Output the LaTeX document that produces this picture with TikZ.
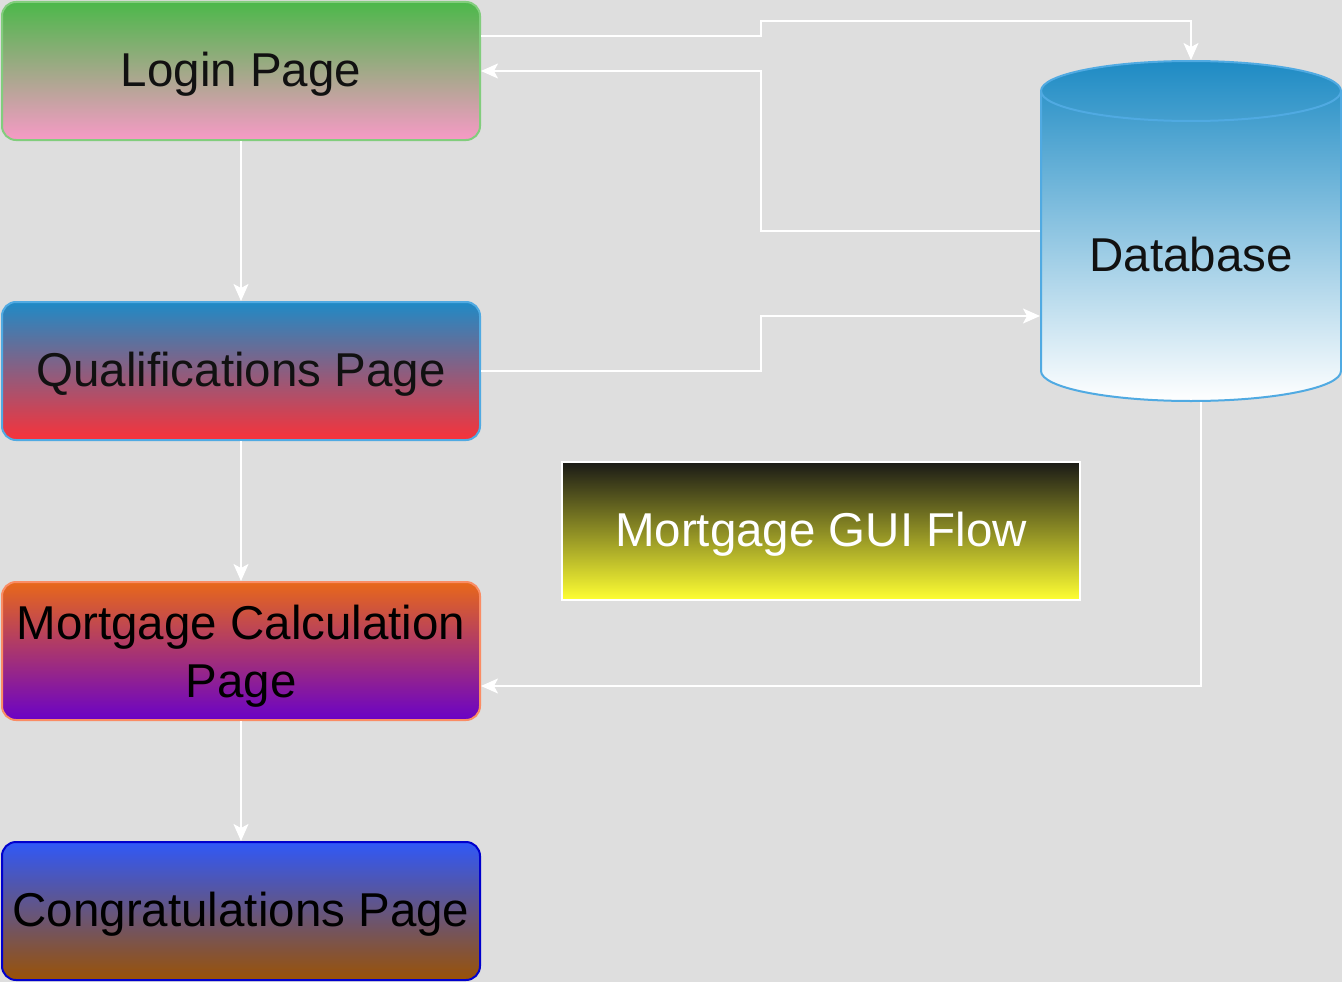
\documentclass[tikz,border=0pt]{standalone}
\usepackage{fontspec}
\setmainfont{Liberation Sans}
\usetikzlibrary{arrows.meta,calc}
\definecolor{bg}{HTML}{DEDEDE}
\definecolor{txt}{HTML}{111111}
\definecolor{loginTop}{HTML}{4CB84A}
\definecolor{loginBot}{HTML}{F79AC6}
\definecolor{loginLine}{HTML}{82CD7D}
\definecolor{qualTop}{HTML}{1F8AC6}
\definecolor{qualBot}{HTML}{F8323A}
\definecolor{qualLine}{HTML}{50AAE2}
\definecolor{mortTop}{HTML}{E8681A}
\definecolor{mortBot}{HTML}{6A02C6}
\definecolor{mortLine}{HTML}{FA8C64}
\definecolor{congTop}{HTML}{3058F8}
\definecolor{congBot}{HTML}{9A5206}
\definecolor{congLine}{HTML}{0000CD}
\definecolor{dbTop}{HTML}{1E8BC4}
\definecolor{dbLine}{HTML}{50AAE2}
\definecolor{titleTop}{HTML}{1A1A16}
\definecolor{titleBot}{HTML}{FFFF33}
\begin{document}
\begin{tikzpicture}[x=1pt,y=-1pt,
  bigfont/.style={font=\fontsize{47.5}{58}\selectfont},
  oneline/.style={text height=39pt,text depth=8.5pt},
  pagebox/.style={rectangle,rounded corners=14pt,line width=2pt,minimum width=478pt,
    minimum height=138pt,inner sep=0pt,outer sep=1pt,text=txt,bigfont,
    oneline,align=center},
  conn/.style={draw=white,line width=2pt,-{Stealth[length=17pt,width=15pt,inset=4pt]}}]
\fill[bg] (0,0) rectangle (1342,982);
\useasboundingbox (0,0) rectangle (1342,982);

\node[pagebox,draw=loginLine,top color=loginTop,bottom color=loginBot] (login) at (241,71) {Login Page};
\node[pagebox,draw=qualLine,top color=qualTop,bottom color=qualBot] (qual) at (241,371) {Qualifications Page};
\node[pagebox,draw=mortLine,top color=mortTop,bottom color=mortBot,text=black,text height=92pt,text depth=0pt] (mort) at (241,651) {Mortgage Calculation\\Page};
\node[pagebox,draw=congLine,top color=congTop,bottom color=congBot,text=black] (cong) at (241,911) {Congratulations Page};

\node[rectangle,draw=white,line width=2pt,minimum width=518pt,minimum height=138pt,inner sep=0pt,
  top color=titleTop,bottom color=titleBot,text=white,bigfont,oneline] (title) at (821,531) {Mortgage GUI Flow};

% database cylinder
\path[top color=dbTop,bottom color=white,draw=dbLine,line width=2pt]
  (1041,91) -- (1041,371) arc[start angle=180,end angle=0,x radius=150,y radius=30]
  -- (1341,91) arc[start angle=0,end angle=-180,x radius=150,y radius=30] -- cycle;
\draw[dbLine,line width=2pt] (1041,91) arc[start angle=180,end angle=0,x radius=150,y radius=30];
\node[text=txt,bigfont,oneline,inner sep=0pt] (dbtext) at (1191,256.5) {Database};
\coordinate (dbtop) at (1191,60);
\coordinate (dbleftA) at (1040,231);
\coordinate (dbleftB) at (1040,316);
\coordinate (dbbot) at (1201,402);

\coordinate (loginOut) at ($(login.north east)!0.25!(login.south east)$);
\coordinate (mortIn) at ($(mort.north east)!0.75!(mort.south east)$);

\draw[conn] (loginOut) -| (761,21) -| (dbtop);
\draw[conn] (dbleftA) -| (761,71) -- (login.east);
\draw[conn] (login.south) -- (qual.north);
\draw[conn] (qual.east) -| (761,316) -- (dbleftB);
\draw[conn] (qual.south) -- (mort.north);
\draw[conn] (dbbot) |- (mortIn);
\draw[conn] (mort.south) -- (cong.north);
\end{tikzpicture}
\end{document}
